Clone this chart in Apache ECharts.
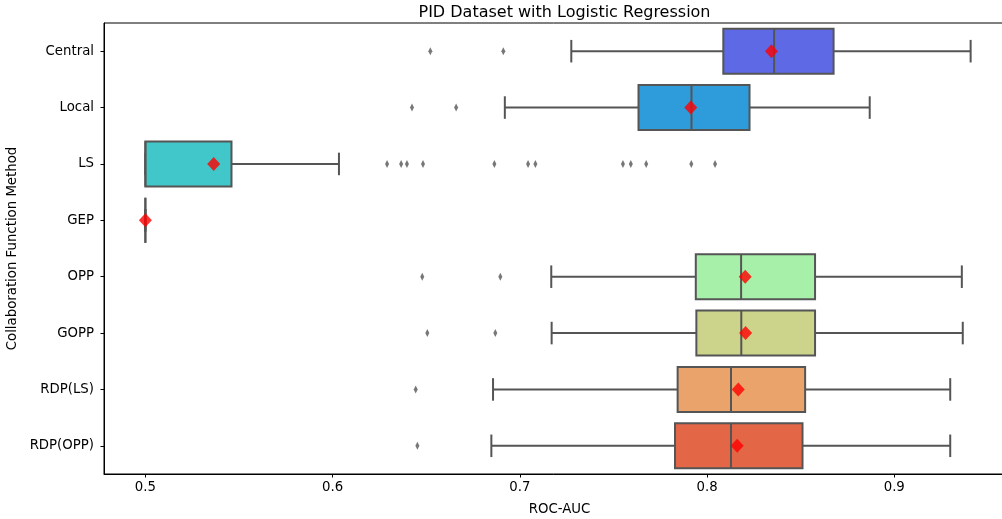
<!DOCTYPE html>
<html>
  <head>
    <meta charset="utf-8" />
    <title>PID Dataset with Logistic Regression</title>
    <script src="https://cdn.jsdelivr.net/npm/echarts@6/dist/echarts.min.js"></script>
  </head>
  <body style="margin:0">
    <div id="main" style="width:1002px;height:519px;"></div>
    <script type="text/javascript">
      // categories, top to bottom
      var methods = ["Central", "Local", "LS", "GEP", "OPP", "GOPP", "RDP(LS)", "RDP(OPP)"];
      // [low whisker, Q1, median, Q3, high whisker]
      var boxStats = [
        [0.7275, 0.8087, 0.8358, 0.8676, 0.9408],
        [0.692, 0.7634, 0.7917, 0.8227, 0.8869],
        [0.5, 0.5, 0.5, 0.546, 0.6034],
        [0.5, 0.5, 0.5, 0.5, 0.5],
        [0.7168, 0.794, 0.8182, 0.8577, 0.9361],
        [0.717, 0.7943, 0.8183, 0.8577, 0.9366],
        [0.6857, 0.7843, 0.8128, 0.8524, 0.9299],
        [0.6848, 0.7829, 0.8128, 0.851, 0.9299]
      ];
      var means = [0.8344, 0.7913, 0.5365, 0.5, 0.8204, 0.8206, 0.8167, 0.8161];
      var outliers = [
        [0.6522, 0.6912],
        [0.6424, 0.666],
        [0.6291, 0.6366, 0.6397, 0.6483, 0.6864, 0.7044, 0.7083, 0.7551, 0.7593, 0.7675, 0.7916, 0.8043],
        [],
        [0.6479, 0.6896],
        [0.6506, 0.6869],
        [0.6444],
        [0.6453]
      ];
      var boxColors = ["#5d69e5", "#2e9bda", "#41c7c9", "#8be6be", "#a6f0aa", "#ccd38a", "#eaa46b", "#e36647"];
      var xTicks = [0.5, 0.6, 0.7, 0.8, 0.9];

      var font = "DejaVu Sans";
      var lineGray = "#555555";

      var boxData = methods.map(function (m, i) {
        return [i].concat(boxStats[i]);
      });
      var outlierData = [];
      outliers.forEach(function (vals, i) {
        vals.forEach(function (v) {
          outlierData.push([v, i]);
        });
      });
      var meanData = means.map(function (v, i) {
        return [v, i];
      });

      function renderBox(params, api) {
        var i = api.value(0);
        var lo = api.coord([api.value(1), i])[0];
        var q1 = api.coord([api.value(2), i])[0];
        var mid = api.coord([api.value(3), i]);
        var q3 = api.coord([api.value(4), i])[0];
        var hi = api.coord([api.value(5), i])[0];
        var y = mid[1];
        var h = api.size([0, 1])[1] * 0.8;
        var ls = { stroke: lineGray, lineWidth: 2 };
        return {
          type: "group",
          children: [
            { type: "line", shape: { x1: lo, y1: y, x2: q1, y2: y }, style: ls },
            { type: "line", shape: { x1: q3, y1: y, x2: hi, y2: y }, style: ls },
            { type: "line", shape: { x1: lo, y1: y - h / 4, x2: lo, y2: y + h / 4 }, style: ls },
            { type: "line", shape: { x1: hi, y1: y - h / 4, x2: hi, y2: y + h / 4 }, style: ls },
            {
              type: "rect",
              shape: { x: q1, y: y - h / 2, width: q3 - q1, height: h },
              style: { fill: boxColors[i], stroke: lineGray, lineWidth: 2 }
            },
            { type: "line", shape: { x1: mid[0], y1: y - h / 2, x2: mid[0], y2: y + h / 2 }, style: ls }
          ]
        };
      }

      var myChart = echarts.init(document.getElementById("main"));
      var option = {
        backgroundColor: "#fff",
        animation: false,
        title: {
          text: "PID Dataset with Logistic Regression",
          left: 559.5,
          top: 0,
          textAlign: "center",
          textStyle: { fontFamily: font, fontSize: 16, fontWeight: "normal", color: "#000" }
        },
        // the right spine falls outside the picture, as in the reference
        grid: {
          left: 104,
          top: 23,
          width: 911,
          height: 451,
          outerBoundsMode: "none",
          containLabel: false,
          show: true,
          borderColor: "#000",
          borderWidth: 1
        },
        xAxis: {
          type: "value",
          min: 0.4779,
          max: 0.9645,
          name: "ROC-AUC",
          nameLocation: "middle",
          nameGap: 29,
          nameTextStyle: { fontFamily: font, fontSize: 13.3, color: "#000" },
          splitLine: { show: false },
          axisLine: { show: true, lineStyle: { color: "#000", width: 1 } },
          axisTick: { show: true, length: 3.5, customValues: xTicks, lineStyle: { color: "#000" } },
          axisLabel: {
            customValues: xTicks,
            fontFamily: font,
            fontSize: 13.3,
            color: "#000",
            margin: 7,
            formatter: function (v) {
              return v.toFixed(1);
            }
          }
        },
        yAxis: {
          type: "category",
          data: methods,
          inverse: true,
          name: "Collaboration Function Method",
          nameLocation: "middle",
          nameGap: 73,
          nameTextStyle: { fontFamily: font, fontSize: 13.3, color: "#000" },
          splitLine: { show: false },
          axisLine: { show: true, lineStyle: { color: "#000", width: 1 } },
          axisTick: { show: true, alignWithLabel: true, length: 3.5, lineStyle: { color: "#000" } },
          axisLabel: { fontFamily: font, fontSize: 13.3, color: "#000", margin: 10 }
        },
        series: [
          {
            name: "box",
            type: "custom",
            renderItem: renderBox,
            encode: { x: [1, 2, 3, 4, 5], y: 0 },
            data: boxData,
            z: 2
          },
          {
            name: "outliers",
            type: "scatter",
            symbol: "diamond",
            symbolSize: [4, 8],
            itemStyle: { color: lineGray },
            data: outlierData,
            z: 3
          },
          {
            name: "mean",
            type: "scatter",
            symbol: "diamond",
            symbolSize: [13, 14],
            itemStyle: { color: "#ff0000" },
            data: meanData,
            z: 4
          }
        ]
      };
      myChart.setOption(option);
    </script>
  </body>
</html>
